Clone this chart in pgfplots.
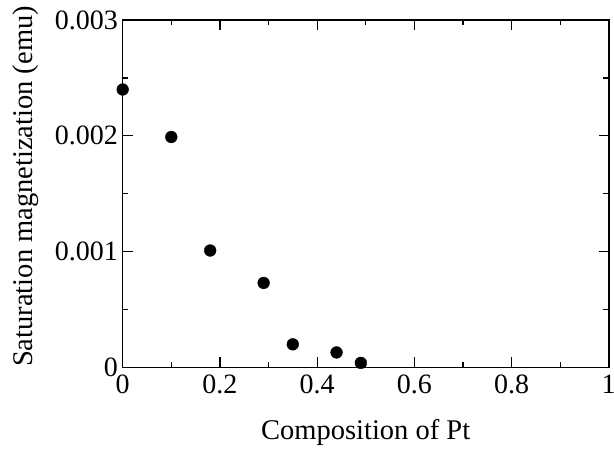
\documentclass[border=0pt]{standalone}
\usepackage{fontspec}
\setmainfont{Liberation Serif}
\usepackage{pgfplots}
\pgfplotsset{compat=1.18}
\begin{document}
\begin{tikzpicture}
\useasboundingbox (-122.7bp,-88.5bp) rectangle (491.3bp,367.5bp);
\begin{axis}[
  at={(0,0)}, anchor=south west,
  scale only axis,
  width=486bp, height=347.5bp,
  xmin=0, xmax=1, ymin=0, ymax=0.003,
  axis line style={line width=1.6bp},
  tick align=inside,
  major tick length=10bp, minor tick length=5.5bp,
  every tick/.style={line width=1.2bp, black},
  xtick={0,0.2,0.4,0.6,0.8,1},
  xticklabels={0,0.2,0.4,0.6,0.8,1},
  minor xtick={0.1,0.3,0.5,0.7,0.9},
  ytick={0,0.001,0.002,0.003},
  yticklabels={0,0.001,0.002,0.003},
  minor ytick={0.0005,0.0015,0.0025},
  scaled y ticks=false,
  tick label style={font=\fontsize{28bp}{30bp}\selectfont, inner sep=0pt},
  xticklabel style={anchor=base, yshift=-25.5bp},
  yticklabel style={anchor=east, xshift=-4.7bp},
  label style={font=\fontsize{28.5bp}{30bp}\selectfont, inner sep=0pt},
  xlabel={Composition of Pt},
  ylabel={Saturation magnetization (emu)},
  xlabel style={at={(axis description cs:0.5,-0.2066)}, anchor=base},
  ylabel style={at={(axis description cs:-0.1846,0.521)}, anchor=base},
]
\addplot[only marks, mark=*, mark size=5.9bp, black] coordinates {
  (0,0.00240)
  (0.10,0.00199)
  (0.18,0.00101)
  (0.29,0.00073)
  (0.35,0.00020)
  (0.44,0.00013)
  (0.49,0.00004)
};
\end{axis}
\end{tikzpicture}
\end{document}
